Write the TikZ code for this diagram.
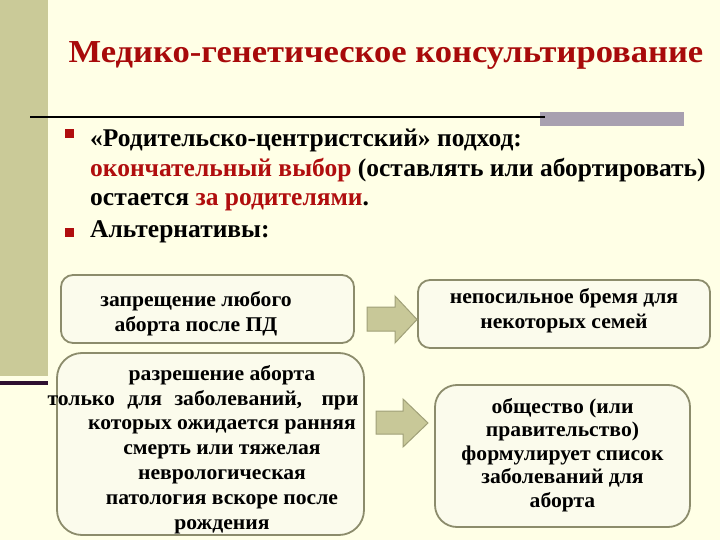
\documentclass[tikz,border=0pt]{standalone}
\usepackage{fontspec}
\setmainfont{Liberation Serif}
\newfontfamily\titlefont[FakeStretch=1.08]{Liberation Serif}
\newfontfamily\boxfont[FakeStretch=1.03]{Liberation Serif}
\definecolor{bg}{HTML}{FFFFE6}
\definecolor{stripe}{HTML}{CACA98}
\definecolor{darkbar}{HTML}{2E1030}
\definecolor{graybar}{HTML}{A8A0B0}
\definecolor{titlered}{HTML}{A80A0A}
\definecolor{textred}{HTML}{B00E0E}
\definecolor{boxfill}{HTML}{FBFBEC}
\definecolor{boxline}{HTML}{8C8C6C}
\definecolor{arrowfill}{HTML}{C8C898}
\definecolor{arrowline}{HTML}{A0A078}
\begin{document}
\begin{tikzpicture}[x=1pt,y=-1pt,
  altbox/.style={draw=boxline, line width=1.8pt, fill=boxfill, inner sep=0pt},
  alttext/.style={inner sep=0pt, align=center, font=\boxfont\fontsize{21}{24.8}\selectfont\bfseries},
  bodytext/.style={anchor=base west, inner sep=0pt, font=\fontsize{25.5}{30}\selectfont\bfseries},
  bulletmark/.style={fill=textred, draw=none},
  blockarrow/.style={fill=arrowfill, draw=arrowline, line width=1pt, line join=miter}]
\useasboundingbox (0,0) rectangle (720,540);
\fill[bg] (0,0) rectangle (720,540);
\fill[stripe] (0,0) rectangle (48,376);
\fill[darkbar] (0,381) rectangle (48,385);
\fill[graybar] (540,112) rectangle (684,126);
\draw[line width=2pt] (30,117) -- (545,117);

\node[anchor=base, inner sep=0pt, text=titlered, font=\titlefont\fontsize{32}{36}\selectfont\bfseries] (title) at (386,63) {Медико-генетическое консультирование};

\fill[bulletmark] (65,129) rectangle (74,138);
\fill[bulletmark] (65,228) rectangle (74,237);
\node[bodytext] (l1) at (90,147) {«Родительско-центристский» подход:};
\node[bodytext] (l2) at (90,177) {\textcolor{textred}{окончательный выбор} (оставлять или абортировать)};
\node[bodytext] (l3) at (90,206) {остается \textcolor{textred}{за родителями}.};
\node[bodytext] (l4) at (90,237) {Альтернативы:};

\node[altbox, rounded corners=12pt, minimum width=293pt, minimum height=68pt] (b1) at (207.5,309) {};
\node[altbox, rounded corners=25pt, minimum width=307pt, minimum height=182pt] (b2) at (210.5,444) {};
\node[altbox, rounded corners=12pt, minimum width=292pt, minimum height=68pt] (b3) at (564,314) {};
\node[altbox, rounded corners=22pt, minimum width=255pt, minimum height=142pt] (b4) at (562.5,456) {};

\node[alttext] (t1) at (196,314) {запрещение любого\\аборта после ПД};
\node[alttext] (t2) at (222,449.5)
  {разрешение аборта\\только\hspace{7pt} для\hspace{7pt} заболеваний,\hspace{14pt} при\rule{38pt}{0pt}\\которых ожидается ранняя\\смерть или тяжелая\\неврологическая\\патология вскоре после\\рождения};
\node[alttext] (t3) at (564,310.5) {непосильное бремя для\\некоторых семей};
\node[alttext, font=\boxfont\fontsize{21}{23.5}\selectfont\bfseries] (t4) at (562.5,455)
  {общество (или\\правительство)\\формулирует список\\заболеваний для\\аборта};

\draw[blockarrow] (367,307) -- (395,307) -- (395,296) -- (417,319.5) -- (395,343) -- (395,331) -- (367,331) -- cycle;
\draw[blockarrow] (376,411) -- (403,411) -- (403,399) -- (428,423) -- (403,447) -- (403,434) -- (376,434) -- cycle;
\end{tikzpicture}
\end{document}
